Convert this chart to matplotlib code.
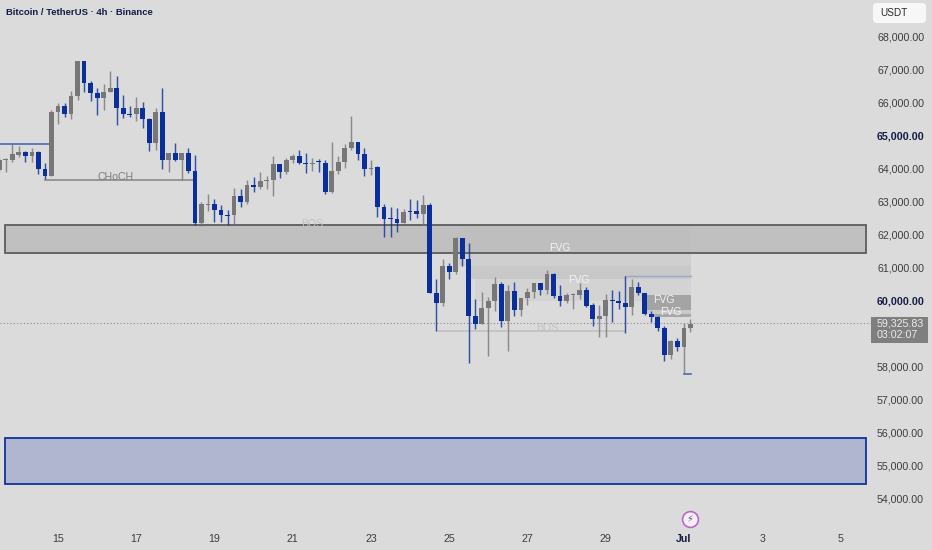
import matplotlib
matplotlib.use("Agg")
import matplotlib.pyplot as plt
from matplotlib.patches import Rectangle, FancyBboxPatch

W, H = 932, 550
BG = "#dbdbdb"; UP = "#777777"; DOWN = "#0a2f9c"

opens = [63970,64290,64272,64424,64515,64394,64515,64000,63788,65727,
         65909,65667,66212,67273,66606,66303,66151,66333,66454,65848,
         65667,65667,65848,65515,64788,65727,64272,64485,64272,64485,
         63939,62363,62925,62939,62757,62606,62606,63182,63000,63515,
         63454,63650,63667,64151,63909,64272,64394,64182,64165,64242,
         64182,63303,63939,64212,64636,64818,64454,64015,64060,62848,
         62515,62485,62363,62727,62727,62636,62909,60242,59939,61060,
         60878,61909,61273,59545,59303,59788,60000,60515,59394,60303,
         59727,60091,60273,60546,60333,60818,60152,60000,60197,60182,
         60333,59879,59454,59545,60030,60000,59939,59818,60424,60242,
         59606,59515,59182,58363,58788,58606,59182]
highs = [64333,64333,64757,64697,64545,64636,64545,64182,65788,66000,
         66000,66363,67273,67273,66666,66454,66576,66969,66818,66242,
         65909,66182,66030,65545,65848,66454,64485,64788,64485,64636,
         64424,63000,63242,63091,62909,62757,63424,63394,63667,63757,
         63909,63788,64394,64151,64333,64454,64576,64485,64333,64303,
         64272,64818,64394,64757,65606,64818,64636,64272,64091,62939,
         62848,62818,62788,63091,63060,63212,62970,60667,61273,61151,
         61939,61909,61757,60060,60273,60121,60727,60576,60485,60576,
         60091,60394,60546,60546,60939,60848,60485,60243,60243,60546,
         60424,59939,59879,60212,60333,60303,60757,60667,60576,60242,
         59697,59545,59242,58818,58879,59333,59454]
lows = [63909,63909,64212,64364,64212,64212,63848,63697,63788,65363,
        65576,65515,66091,66333,66060,65636,65788,66333,65333,65545,
        65576,65454,65242,64545,64576,64000,63909,64242,63667,63879,
        62303,62273,62727,62394,62394,62303,62333,62848,62939,63303,
        63394,63394,63182,63727,63848,64182,64151,63879,63939,63909,
        63242,63273,63848,64030,64576,64272,63788,63818,62545,61939,
        61939,62091,62363,62454,62515,62303,60242,59091,59848,60667,
        60818,61060,58121,59151,59303,58333,59697,59212,58485,59545,
        59545,59879,60091,60182,60212,60091,59848,59939,59757,60061,
        59818,59242,58909,58909,59364,59757,59030,59576,60182,59576,
        59364,59091,58182,58242,58485,57788,59061]
closes = [64272,64303,64454,64515,64394,64515,64000,63788,65727,65909,
          65667,66212,67273,66606,66303,66151,66333,66454,65848,65667,
          65650,65848,65515,64788,65727,64272,64485,64272,64485,63939,
          62363,62939,62939,62757,62606,62590,63182,63000,63515,63454,
          63636,63667,64151,63909,64272,64394,64182,64165,64182,64225,
          63303,63939,64212,64636,64818,64454,64000,64030,62848,62485,
          62500,62363,62697,62710,62636,62909,60242,59939,61060,60878,
          61909,61273,59545,59303,59788,60000,60515,59394,60303,59727,
          60091,60273,60546,60333,60818,60152,60000,60182,60212,60333,
          59848,59454,59545,60030,60015,59939,59818,60424,60242,59606,
          59515,59182,58363,58788,58606,59182,59303]

price_ticks = [68000,67000,66000,65000,64000,63000,62000,61000,60000,58000,57000,56000,55000,54000]
date_ticks = [0,12,24,36,48,60,72,84,96,108,120]
date_labels = ["15","17","19","21","23","25","27","29","Jul","3","5"]
first_bar = -9
bar_step = 6.52
x_at_zero = 58.0

price_top = 69121.0
per_px = 30.303

fig = plt.figure(figsize=(W/100, H/100), dpi=100, facecolor=BG)
ax = fig.add_axes([0, 0, 1, 1], facecolor=BG)
ax.set_xlim(-x_at_zero/bar_step, (W-x_at_zero)/bar_step)
ax.set_ylim(price_top - per_px*H, price_top)
ax.axis("off")
plt.rcParams["font.family"] = ["Liberation Sans", "DejaVu Sans"]

def X(px):
    return (px - x_at_zero)/bar_step
def Y(py):
    return price_top - per_px*py

def zone(x0, x1, top, bottom, color, z=1):
    ax.add_patch(Rectangle((X(x0), bottom), X(x1)-X(x0), top-bottom, facecolor=color, edgecolor="none", zorder=z))

# FVG zones
zone(459, 691, 62303, 61060, "#cfcfcf", z=1)
zone(467, 691, 61060, 60667, "#c8c8c8", z=1.1)
zone(475, 691, 60667, 60000, "#d3d3d3", z=1.1)
zone(647, 691, 60182, 59727, "#a4a4a4", z=1.2)
zone(647, 691, 59727, 59606, "#c9c9c9", z=1.2)
zone(654, 691, 59606, 59515, "#a8a8a8", z=1.2)

# Boxes
ax.add_patch(Rectangle((X(5), 61454), X(866)-X(5), 62303-61454, facecolor="#bcbcbc", alpha=0.85, edgecolor="none", zorder=2))
ax.add_patch(Rectangle((X(5), 61454), X(866)-X(5), 62303-61454, facecolor="none", edgecolor="#5c5c5c", linewidth=1.3, zorder=2.1))
ax.add_patch(Rectangle((X(5), 54455), X(866)-X(5), 55848-54455, facecolor="#b0b6cf", edgecolor="#0f339e", linewidth=1.3, zorder=2))

# Structure lines
ax.plot([X(0), X(49)], [64757, 64757], color="#4a68b8", lw=1.2, zorder=3)
ax.plot([X(45), X(193)], [63667, 63667], color="#8a8a8a", lw=1.2, zorder=3)
ax.plot([X(437), X(625)], [59091, 59091], color="#c0c0c0", lw=1.2, zorder=3)
ax.plot([X(625), X(691)], [60757, 60757], color="#9aa8cc", lw=1.0, zorder=3)
ax.plot([X(684), X(691)], [57788, 57788], color="#4a68b8", lw=1.2, zorder=3)
ax.plot([X(0), X(872)], [59325.83, 59325.83], color="#8a8a8a", lw=0.8, ls=(0, (1, 2)), zorder=3)

# Candles
for i, (o, h, l, c) in enumerate(zip(opens, highs, lows, closes)):
    k = first_bar + i
    col = UP if c >= o else DOWN
    ax.plot([k, k], [l, h], color=col, lw=1.05, alpha=0.8, solid_capstyle="butt", zorder=4)
    top, bot = max(o, c), min(o, c)
    height = max(top-bot, 32)
    ax.add_patch(Rectangle((k-0.37, (top+bot)/2-height/2), 0.74, height, facecolor=col, edgecolor="none", zorder=5))

# Labels on chart
ax.text(X(116), Y(177), "CHoCH", color="#7d7d7d", fontsize=7.6, ha="center", va="center", zorder=6)
ax.text(X(312), Y(224), "BOS", color="#c2c2c2", fontsize=7.6, ha="center", va="center", zorder=6)
ax.text(X(547), Y(328), "BOS", color="#c2c2c2", fontsize=7.6, ha="center", va="center", zorder=6)
for px, py in [(560, 248), (579, 280), (664, 300), (671, 312)]:
    ax.text(X(px), Y(py), "FVG", color="#f2f2f2", fontsize=7.6, ha="center", va="center", zorder=6)

# Title
ax.text(X(6), Y(12.5), "Bitcoin / TetherUS · 4h · Binance", color="#131c45", fontsize=6.8, fontweight="bold", ha="left", va="center", zorder=8)

# Price axis
for p in price_ticks:
    bold = p in (65000, 60000)
    ax.text(X(877), p - 0.7*per_px, f"{p:,.2f}", color="#131c45" if bold else "#3d3d3d", fontsize=7.7, fontweight="bold" if bold else "normal", ha="left", va="center", zorder=8)

ax.add_patch(FancyBboxPatch((X(873), Y(23)), X(926)-X(873), Y(3)-Y(23), boxstyle="round,pad=0,rounding_size=0.6", mutation_aspect=per_px*bar_step, facecolor="#f7f7f7", edgecolor="none", zorder=7))
ax.text(X(880), Y(13), "USDT", color="#2a2a2a", fontsize=7.2, ha="left", va="center", zorder=8)

ax.add_patch(Rectangle((X(871), Y(343)), X(928)-X(871), Y(317)-Y(343), facecolor="#7f7f7f", edgecolor="none", zorder=7))
ax.text(X(877), Y(323.5), "59,325.83", color="#ececec", fontsize=7.7, ha="left", va="center", zorder=8)
ax.text(X(877), Y(335.5), "03:02:07", color="#ececec", fontsize=7.7, ha="left", va="center", zorder=8)

# Date axis
for k, lab in zip(date_ticks, date_labels):
    bold = lab == "Jul"
    ax.text(k, Y(539), lab, color="#131c45" if bold else "#3d3d3d", fontsize=7.7, fontweight="bold" if bold else "normal", ha="center", va="center", zorder=8)

# Event marker
ax.scatter([X(690)], [Y(518.5)], s=130, facecolor="#f4f0f6", edgecolor="#b868c8", linewidth=1.2, zorder=8)
ax.text(X(690), Y(518.5), "⚡", color="#7a4ab0", fontsize=7, ha="center", va="center", zorder=9, family=["DejaVu Sans"])

fig.savefig("out.png", dpi=100, facecolor=BG)
